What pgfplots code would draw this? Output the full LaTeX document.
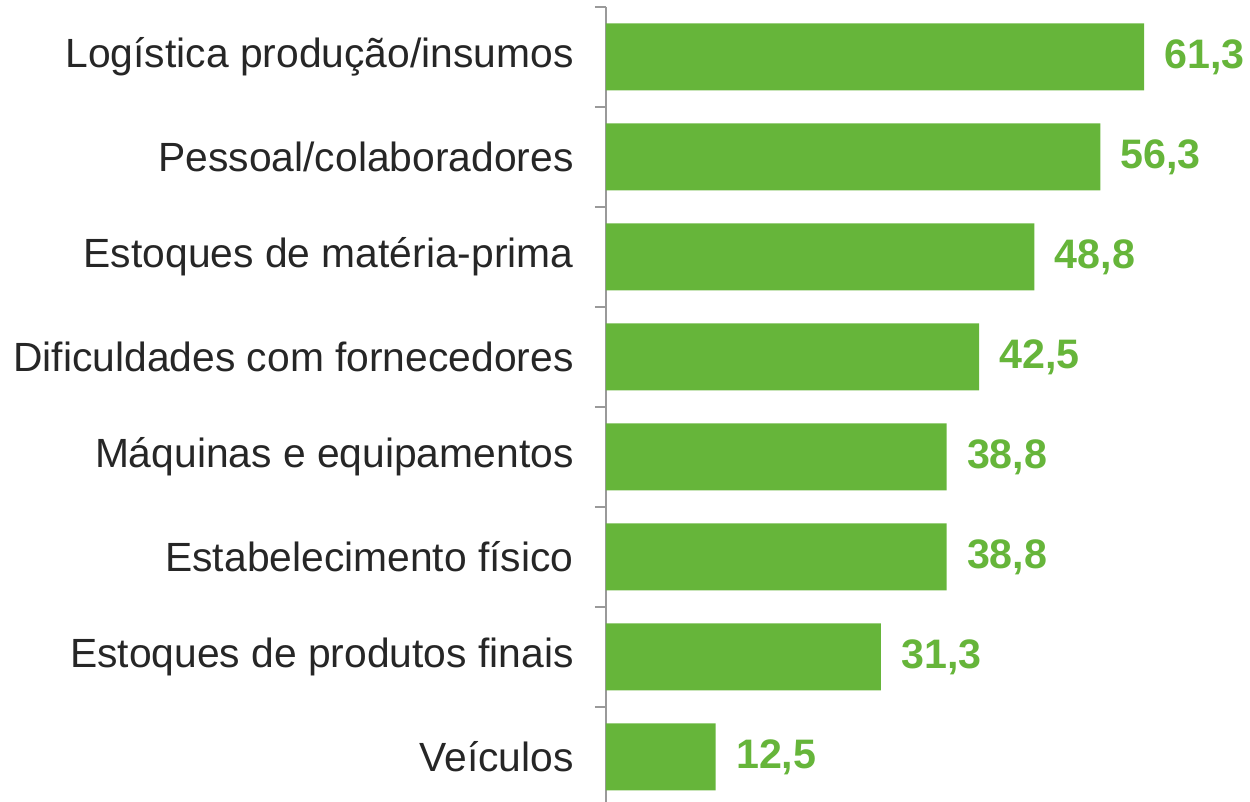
\documentclass[border=0pt]{standalone}
\usepackage{pgfplots}
\usepackage{pgfplotstable}
\pgfplotsset{compat=1.18}
\usepackage{fontspec}
\setmainfont{Liberation Sans}
\definecolor{barg}{HTML}{66B53A}
\definecolor{axg}{HTML}{9A9A9A}
\definecolor{txt}{HTML}{262626}
\pgfplotstableread{
y x lab
0 61.3 61,3
1 56.3 56,3
2 48.8 48,8
3 42.5 42,5
4 38.8 38,8
5 38.8 38,8
6 31.3 31,3
7 12.5 12,5
}\data
\begin{document}
\fontsize{20.4}{24}\selectfont
\begin{tikzpicture}
\begin{axis}[
 scale only axis, width=307.3pt, height=397.5pt,
 xmin=0, xmax=70, ymin=-0.5, ymax=7.45, y dir=reverse,
 xbar, bar width=0.67, bar shift=0pt,
 axis x line=none, axis y line=left,
 axis line style={-, axg, line width=1pt},
 ytick={0,...,7},
 yticklabels={Logística produção/insumos, Pessoal/colaboradores, Estoques de matéria-prima, Dificuldades com fornecedores, Máquinas e equipamentos, Estabelecimento físico, Estoques de produtos finais, Veículos},
 major tick length=0pt,
 extra y ticks={-0.5,0.5,1.5,2.5,3.5,4.5,5.5,6.5},
 extra y tick labels={},
 extra y tick style={major tick length=5.5pt, tick align=outside, tick style={axg, line width=1pt}},
 yticklabel style={font=\fontsize{20.4}{24}\selectfont, text=txt, inner sep=0pt, xshift=-16pt},
 nodes near coords, point meta=explicit symbolic,
 nodes near coords style={font=\fontsize{20.6}{24}\selectfont\bfseries, text=barg, anchor=west, inner sep=0pt, xshift=10pt},
]
\addplot[fill=barg, draw=none] table[x=x, y=y, meta=lab]{\data};
\coordinate (tl) at (axis cs:0,-0.5);
\coordinate (bl) at (axis cs:0,7.45);
\end{axis}
\pgfresetboundingbox
\path ([xshift=-303pt,yshift=3.5pt]tl) rectangle ([xshift=322pt]bl);
\end{tikzpicture}
\end{document}
